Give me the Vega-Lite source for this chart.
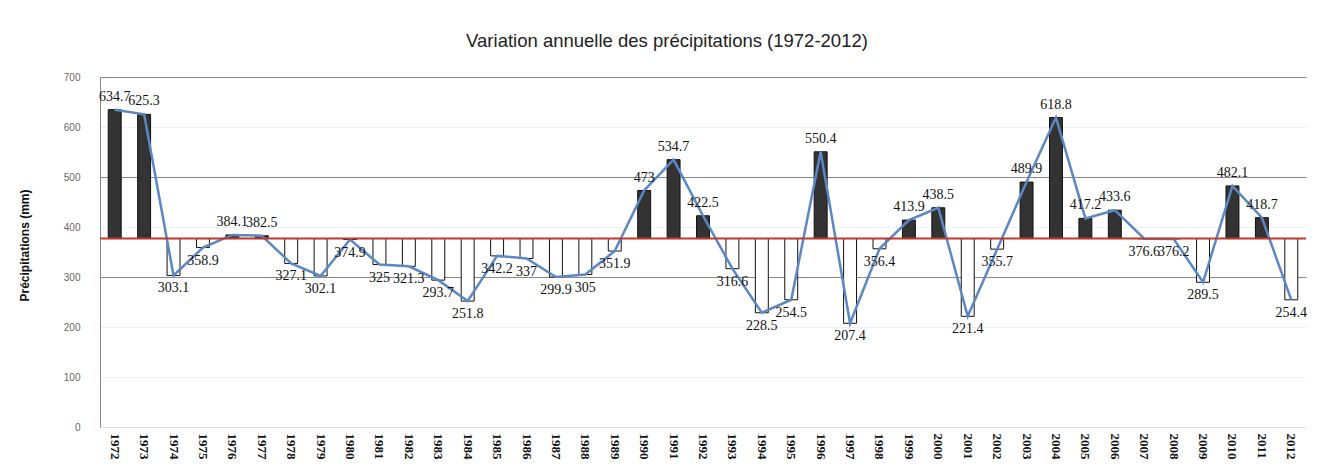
{
  "$schema": "https://vega.github.io/schema/vega-lite/v6.json",
  "width": 1206,
  "height": 350,
  "autosize": {"type": "none"},
  "padding": {"left": 100, "top": 77, "right": 27, "bottom": 47},
  "background": "white",
  "title": {
    "text": "Variation annuelle des précipitations (1972-2012)",
    "anchor": "middle",
    "dx": -36,
    "offset": 22,
    "font": "Liberation Sans",
    "fontSize": 18.5,
    "fontWeight": "normal",
    "color": "#222222"
  },
  "config": {
    "view": {"stroke": null},
    "axis": {"labelFont": "Liberation Sans", "titleFont": "Liberation Sans"}
  },
  "data": {
    "values": [
      {"year": 1972, "value": 634.7},
      {"year": 1973, "value": 625.3},
      {"year": 1974, "value": 303.1},
      {"year": 1975, "value": 358.9},
      {"year": 1976, "value": 384.1},
      {"year": 1977, "value": 382.5},
      {"year": 1978, "value": 327.1},
      {"year": 1979, "value": 302.1},
      {"year": 1980, "value": 374.9},
      {"year": 1981, "value": 325},
      {"year": 1982, "value": 321.3},
      {"year": 1983, "value": 293.7},
      {"year": 1984, "value": 251.8},
      {"year": 1985, "value": 342.2},
      {"year": 1986, "value": 337},
      {"year": 1987, "value": 299.9},
      {"year": 1988, "value": 305},
      {"year": 1989, "value": 351.9},
      {"year": 1990, "value": 473},
      {"year": 1991, "value": 534.7},
      {"year": 1992, "value": 422.5},
      {"year": 1993, "value": 316.6},
      {"year": 1994, "value": 228.5},
      {"year": 1995, "value": 254.5},
      {"year": 1996, "value": 550.4},
      {"year": 1997, "value": 207.4},
      {"year": 1998, "value": 356.4},
      {"year": 1999, "value": 413.9},
      {"year": 2000, "value": 438.5},
      {"year": 2001, "value": 221.4},
      {"year": 2002, "value": 355.7},
      {"year": 2003, "value": 489.9},
      {"year": 2004, "value": 618.8},
      {"year": 2005, "value": 417.2},
      {"year": 2006, "value": 433.6},
      {"year": 2007, "value": 376.6},
      {"year": 2008, "value": 376.2},
      {"year": 2009, "value": 289.5},
      {"year": 2010, "value": 482.1},
      {"year": 2011, "value": 418.7},
      {"year": 2012, "value": 254.4}
    ]
  },
  "transform": [
    {"joinaggregate": [
      {"op": "mean", "field": "value", "as": "mean"},
      {"op": "max", "field": "value", "as": "vmax"},
      {"op": "min", "field": "value", "as": "vmin"}
    ]}
  ],
  "layer": [
    {
      "mark": {"type": "bar", "stroke": "#111111", "strokeWidth": 1},
      "encoding": {
        "x": {
          "field": "year",
          "type": "ordinal",
          "scale": {"paddingInner": 0.56, "paddingOuter": 0.28},
          "axis": {
            "title": null,
            "labelAngle": 90,
            "labelAlign": "left",
            "labelBaseline": "middle",
            "labelFont": "Liberation Serif",
            "labelFontWeight": "bold",
            "labelFontSize": 13,
            "labelColor": "#111111",
            "labelPadding": 6,
            "ticks": false,
            "domainColor": "#dddddd"
          }
        },
        "y": {
          "field": "value",
          "type": "quantitative",
          "scale": {"domain": [0, 700], "nice": false},
          "axis": {
            "title": "Précipitations (mm)",
            "titleFontSize": 12,
            "titleFontWeight": "bold",
            "titleColor": "#111111",
            "titleX": -76,
            "titleY": 168,
            "titleAngle": -90,
            "titleAlign": "center",
            "titleBaseline": "middle",
            "values": [0, 100, 200, 300, 400, 500, 600, 700],
            "labelFontSize": 10,
            "labelColor": "#666666",
            "labelPadding": 20,
            "ticks": false,
            "domainColor": "#888888",
            "grid": true,
            "gridColor": "#888888",
            "gridOpacity": {"condition": {"test": "datum.value >= 300 && datum.value % 200 == 100", "value": 1}, "value": 0.12}
          }
        },
        "y2": {"field": "mean"},
        "fill": {
          "condition": {"test": "datum.value >= datum.mean", "value": "#333333"},
          "value": "#ffffff"
        }
      }
    },
    {
      "mark": {"type": "line", "color": "#5b87c2", "strokeWidth": 2.5},
      "encoding": {
        "x": {"field": "year", "type": "ordinal"},
        "y": {"field": "value", "type": "quantitative"}
      }
    },
    {
      "mark": {"type": "rule", "color": "#c0392b", "strokeWidth": 2},
      "encoding": {
        "y": {"aggregate": "mean", "field": "value", "type": "quantitative"}
      }
    },
    {
      "transform": [{"filter": "datum.value >= datum.mean"}],
      "mark": {"type": "text", "baseline": "bottom", "dy": -6, "font": "Liberation Serif", "fontSize": 14, "color": "#111111"},
      "encoding": {
        "x": {"field": "year", "type": "ordinal"},
        "y": {"field": "value", "type": "quantitative"},
        "text": {"field": "value", "type": "quantitative", "format": ".1~f"},
        "fontWeight": {"condition": {"test": "datum.value == datum.vmax || datum.value == datum.vmin", "value": "bold"}, "value": "normal"}
      }
    },
    {
      "transform": [{"filter": "datum.value < datum.mean"}],
      "mark": {"type": "text", "baseline": "top", "dy": 6, "font": "Liberation Serif", "fontSize": 14, "color": "#111111"},
      "encoding": {
        "x": {"field": "year", "type": "ordinal"},
        "y": {"field": "value", "type": "quantitative"},
        "text": {"field": "value", "type": "quantitative", "format": ".1~f"},
        "fontWeight": {"condition": {"test": "datum.value == datum.vmax || datum.value == datum.vmin", "value": "bold"}, "value": "normal"}
      }
    }
  ]
}
